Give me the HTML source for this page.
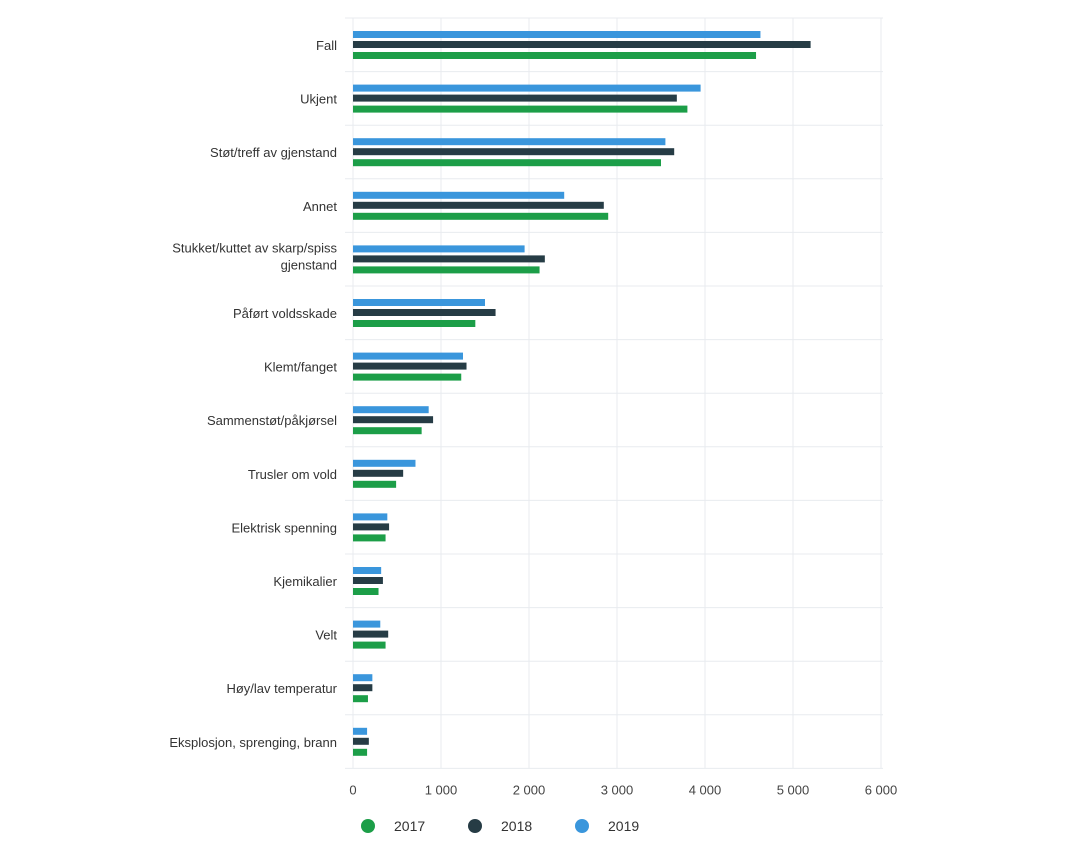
<!DOCTYPE html>
<html><head><meta charset="utf-8"><style>
body{margin:0;background:#fff;font-family:"Liberation Sans",sans-serif}
svg text{font-family:"Liberation Sans",sans-serif}
</style></head><body>
<svg width="1067" height="861" viewBox="0 0 1067 861">
<g id="grid"></g>
<g id="bars"></g>
<g id="labels"></g>
<g id="ticks"></g>
<g>
 <g><circle cx="368" cy="826" r="7" fill="#1c9e48"/><text x="394" y="831" font-size="14" fill="#333">2017</text></g>
 <g><circle cx="475" cy="826" r="7" fill="#263c45"/><text x="501" y="831" font-size="14" fill="#333">2018</text></g>
 <g><circle cx="582" cy="826" r="7" fill="#3a96dc"/><text x="608" y="831" font-size="14" fill="#333">2019</text></g>
</g>
</svg>
<script>
const categories=["Fall","Ukjent","Støt/treff av gjenstand","Annet","Stukket/kuttet av skarp/spiss|gjenstand","Påført voldsskade","Klemt/fanget","Sammenstøt/påkjørsel","Trusler om vold","Elektrisk spenning","Kjemikalier","Velt","Høy/lav temperatur","Eksplosjon, sprenging, brann"];
const v2019=[4630,3950,3550,2400,1950,1500,1250,860,710,390,320,310,220,160];
const v2018=[5200,3680,3650,2850,2180,1620,1290,910,570,410,340,400,220,180];
const v2017=[4580,3800,3500,2900,2120,1390,1230,780,490,370,290,370,170,160];
const ticks=[0,1000,2000,3000,4000,5000,6000];
const tickLabels=["0","1 000","2 000","3 000","4 000","5 000","6 000"];
const NS="http://www.w3.org/2000/svg";
const x0=353,pxPer=88/1000,top0=18,rowH=53.6,right=883;
const xs=v=>x0+v*pxPer;
function mk(tag,attrs,parent){const e=document.createElementNS(NS,tag);for(const k in attrs)e.setAttribute(k,attrs[k]);parent.appendChild(e);return e;}
const grid=document.getElementById('grid'),bars=document.getElementById('bars'),labels=document.getElementById('labels'),tk=document.getElementById('ticks');
const bottom=top0+rowH*categories.length;
ticks.forEach((t,i)=>{
 const l=mk('line',{x1:xs(t),x2:xs(t),y1:top0,y2:bottom,stroke:'#e8ebef','stroke-width':1},grid);
 
 
 const tx=mk('text',{x:xs(t),y:bottom+26,'font-size':13,fill:'#444','text-anchor':'middle'},tk);
 tx.textContent=tickLabels[i];
 
 
});
for(let i=0;i<=categories.length;i++){
 const y=top0+i*rowH;
 const l=mk('line',{x1:345,x2:right,y1:y,y2:y,stroke:'#e8ebef','stroke-width':1},grid);
 
 
}
const series=[[v2019,'#3a96dc',13],[v2018,'#263c45',23],[v2017,'#1c9e48',34]];
categories.forEach((c,i)=>{
 const ty=top0+i*rowH;
 series.forEach(([arr,col,off],s)=>{
  const r=mk('rect',{x:x0,y:ty+off,width:Math.max(0,xs(arr[i])-x0),height:7,fill:col},bars);
  
  
 });
 const parts=c.split('|');
 const t=mk('text',{x:337,y:ty+(parts.length>1?20:32),'font-size':13,fill:'#333','text-anchor':'end'},labels);
 
 
 parts.forEach((p,j)=>{const ts=mk('tspan',{x:337,dy:j?17:0},t);ts.textContent=p;});
});
</script>
</body></html>
